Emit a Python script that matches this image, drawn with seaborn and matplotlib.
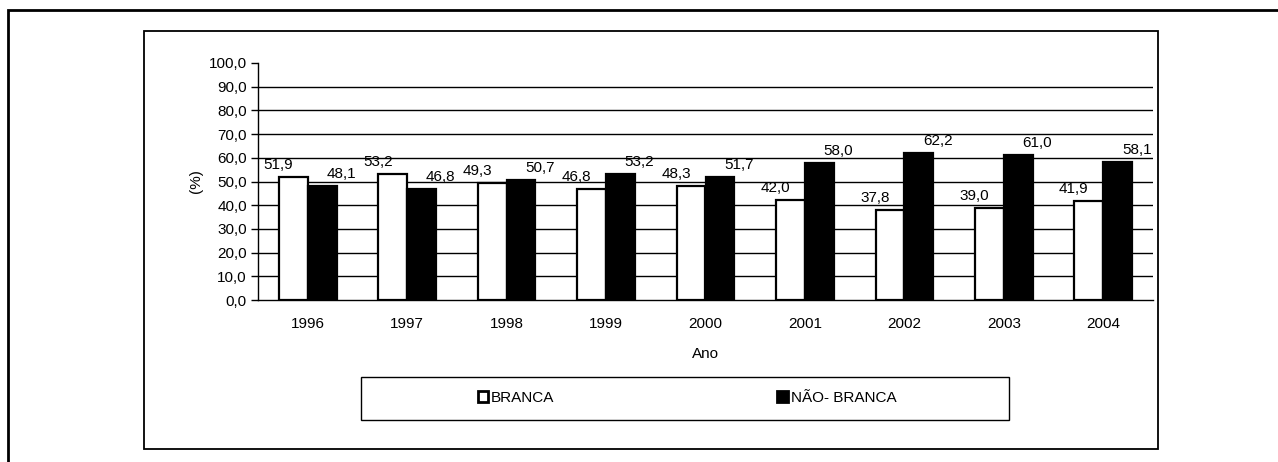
import numpy as np
import pandas as pd
import matplotlib
matplotlib.use("Agg")
import matplotlib.pyplot as plt
from matplotlib.patches import Rectangle
import seaborn as sns

years = ["1996", "1997", "1998", "1999", "2000", "2001", "2002", "2003", "2004"]
series_names = ["BRANCA", "NÃO- BRANCA"]
branca = [51.9, 53.2, 49.3, 46.8, 48.3, 42.0, 37.8, 39.0, 41.9]
nao_branca = [48.1, 46.8, 50.7, 53.2, 51.7, 58.0, 62.2, 61.0, 58.1]
y_ticks = [0, 10, 20, 30, 40, 50, 60, 70, 80, 90, 100]
x_label = "Ano"
y_label = "(%)"

df = pd.DataFrame({
    "Ano": years * 2,
    "Grupo": [series_names[0]] * len(years) + [series_names[1]] * len(years),
    "Valor": branca + nao_branca,
})

sns.set_theme(style="white")
plt.rcParams["font.family"] = ["Liberation Sans", "DejaVu Sans"]
plt.rcParams["text.color"] = "black"

FS = 11
W, H = 1278, 462
fig = plt.figure(figsize=(W / 100, H / 100), dpi=100)
fig.patch.set_facecolor("white")

def fx(px):
    return px / W

def fy(py):
    return 1 - py / H

ax = fig.add_axes([fx(258), fy(300), fx(1153) - fx(258), fy(63) - fy(300)])
ax.set_facecolor("white")

sns.barplot(data=df, x="Ano", y="Valor", hue="Grupo", order=years,
            hue_order=series_names, palette=["white", "black"],
            edgecolor="black", linewidth=1.6, width=0.58, gap=0,
            saturation=1, ax=ax, legend=True)

ax.set_xlim(-0.5, len(years) - 0.5)
ax.set_ylim(0, 100)
ax.set_yticks(y_ticks)
ax.set_yticklabels([f"{v:.1f}".replace(".", ",") for v in y_ticks], fontsize=FS, color="black")
ax.yaxis.grid(True, color="black", linewidth=1.0)
ax.set_axisbelow(True)
ax.get_ygridlines()[-1].set_visible(False)
ax.get_ygridlines()[0].set_visible(False)

ax.set_xticks(range(len(years)))
ax.set_xticklabels(years, fontsize=FS, color="black")
ax.set_xticks(np.arange(-0.5, len(years), 1), minor=True)
ax.tick_params(axis="x", which="major", length=0, pad=12)
ax.tick_params(axis="x", which="minor", length=5, width=1, color="black", direction="out")
ax.tick_params(axis="y", which="major", length=5, width=1, color="black", direction="out", left=True, pad=3)

for s in ["top", "right"]:
    ax.spines[s].set_visible(False)
for s in ["left", "bottom"]:
    ax.spines[s].set_color("black")
    ax.spines[s].set_linewidth(1.0)

ax.set_xlabel(x_label, fontsize=FS, color="black", labelpad=12)
ax.set_ylabel(y_label, fontsize=FS, color="black", labelpad=4)

offsets = [-15, 19]
for cont, dx in zip(ax.containers, offsets):
    for bar in cont:
        h = bar.get_height()
        ax.annotate(f"{h:.1f}".replace(".", ","),
                    (bar.get_x() + bar.get_width() / 2, h),
                    xytext=(dx, 5), textcoords="offset pixels",
                    ha="center", va="bottom", fontsize=FS, color="black")

handles, labels = ax.get_legend_handles_labels()
ax.get_legend().remove()
for hnd in handles:
    hnd.set_linewidth(2.0)
fig.legend(handles, labels, loc="center", bbox_to_anchor=(fx(687), fy(398)),
           ncol=2, frameon=False, fontsize=FS, handlelength=0.68,
           handleheight=0.68, handletextpad=0.2, columnspacing=14.6)

# legend box
fig.add_artist(Rectangle((fx(361), fy(420)), fx(1009) - fx(361), fy(377) - fy(420),
                         transform=fig.transFigure, fill=False, ec="black", lw=1.0))
# inner chart frame
fig.add_artist(Rectangle((fx(144), fy(449)), fx(1158) - fx(144), fy(31) - fy(449),
                         transform=fig.transFigure, fill=False, ec="black", lw=1.3))
# outer frame
fig.add_artist(Rectangle((fx(8), -0.1), 1.2, fy(10.5) + 0.1,
                         transform=fig.transFigure, fill=False, ec="black", lw=2.0))

fig.savefig("out.png", dpi=100, facecolor="white")
